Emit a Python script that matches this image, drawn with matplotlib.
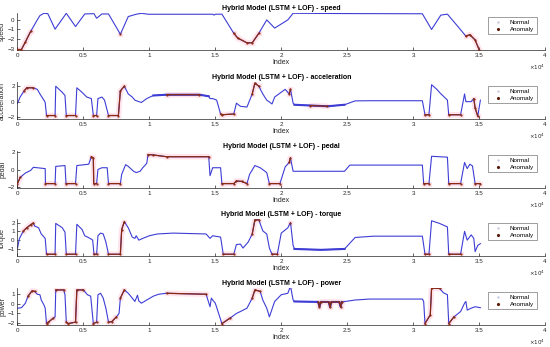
import numpy as np
import matplotlib.pyplot as plt
from matplotlib.lines import Line2D

plt.rcParams['font.family'] = ['Liberation Sans', 'DejaVu Sans']

# x positions are in units of 1e4 samples (as on the axis)
speed_x = [0, 0.03, 0.06, 0.1, 0.15, 0.17, 0.2, 0.23, 0.285, 0.37, 0.44, 0.51, 0.58, 0.6, 0.64, 0.69,
           0.78, 0.84, 0.9, 0.94, 0.99, 1.48, 1.49, 1.5, 1.55, 1.64, 1.67, 1.74, 1.78, 1.83, 1.89, 1.95,
           2.05, 2.09, 2.5, 3.07, 3.14, 3.21, 3.26, 3.34, 3.40, 3.43, 3.47, 3.50]
speed_y = [-3.1, -3.1, -2.3, -1.2, 0, 0.45, 0.69, 0.65, -0.97, 0.69, -0.7, 0.62, 0.65, 0.17, 0.62, 0.62,
           -1.5, 0.35, 0.59, 0.69, 0.59, 0.59, 0.5, 0.59, 0.6, -1.4, -1.9, -2.4, -2.4, -1.4, 0, -0.86,
           0, 0.69, 0.66, 0.64, -1.0, 0.5, 0.6, -0.7, -1.7, -1.55, -2.1, -3.1]
speed_anom = [(0, 0.1), (0.78, 0.78), (1.6, 1.84), (3.38, 3.51)]
speed_noisy = []

accel_x = [0, 0.02, 0.05, 0.07, 0.12, 0.15, 0.17, 0.2, 0.21, 0.22, 0.285, 0.29, 0.34, 0.36, 0.37, 0.44,
           0.45, 0.49, 0.525, 0.56, 0.575, 0.6, 0.61, 0.64, 0.66, 0.69, 0.765, 0.78, 0.81, 0.84, 0.87,
           0.89, 0.92, 0.94, 0.98, 1.03, 1.13, 1.38, 1.45, 1.46, 1.48, 1.51, 1.54, 1.55, 1.64, 1.66,
           1.69, 1.74, 1.78, 1.8, 1.83, 1.86, 1.89, 1.93, 1.95, 2.03, 2.06, 2.07, 2.09, 2.1, 2.22,
           2.35, 2.48, 2.56, 2.67, 3.07, 3.09, 3.12, 3.14, 3.18, 3.2, 3.26, 3.27, 3.36, 3.39, 3.4,
           3.44, 3.46, 3.47, 3.49, 3.51]
accel_y = [-0.2, 0.6, 1.4, 1.8, 1.8, 1.6, 1.0, 0.2, -0.1, -1.8, -1.8, 2.0, 1.2, 0.8, -1.8, -1.8,
           1.8, 1.2, 0.6, 0.4, -1.8, -1.8, 0.4, 0.6, 0.2, -1.8, -1.8, 1.4, 2.0, 1.0, 0.6,
           0.2, 0, -0.1, 0.4, 0.8, 0.9, 0.9, 0.7, 0.4, 0.4, 0.2, -1.6, -1.7, -1.6, -0.2,
           -0.6, -0.7, 1.0, 2.4, 2.0, 1.0, 0.2, -0.3, 0.6, 1.6, 1.0, 1.6, -0.2, -0.4, -0.5,
           -0.6, -0.4, 0.1, 0.12, 0.12, -1.7, -1.7, 2.2, 1.6, 1.2, 0.2, -1.7, -1.7, 1.0, 0,
           0, 0.4, -0.8, -1.9, 0.2]
accel_anom = [(0.03, 0.12), (0.22, 0.285), (0.37, 0.44), (0.575, 0.6), (0.69, 0.765), (0.78, 0.81),
              (1.13, 1.38), (1.54, 1.64), (1.78, 1.83), (2.06, 2.07), (2.22, 2.35), (3.09, 3.12),
              (3.27, 3.36), (3.46, 3.49)]
accel_noisy = [(1.03, 1.45), (2.1, 2.48)]

pedal_x = [0, 0.02, 0.06, 0.1, 0.12, 0.15, 0.21, 0.212, 0.285, 0.29, 0.36, 0.368, 0.44, 0.45, 0.54,
           0.56, 0.575, 0.578, 0.6, 0.61, 0.64, 0.68, 0.69, 0.78, 0.79, 0.82, 0.84, 0.88, 0.9, 0.93,
           0.95, 0.98, 0.99, 1.03, 1.13, 1.45, 1.46, 1.48, 1.54, 1.55, 1.64, 1.66, 1.7, 1.74, 1.76,
           1.8, 1.84, 1.89, 1.91, 1.99, 2.03, 2.06, 2.07, 2.09, 2.48, 2.52, 3.07, 3.08, 3.12, 3.14,
           3.26, 3.27, 3.36, 3.39, 3.41, 3.43, 3.45, 3.47, 3.51]
pedal_y = [-1.6, -0.9, -0.4, -0.1, 0.25, 0.2, 0.1, -1.6, -1.6, 0.35, 0.45, -1.6, -1.6, 0.45, 0.6,
           1.45, 1.3, -1.6, -1.6, 0, 0.2, 0.2, -1.6, -1.6, -0.55, 0.55, 0.35, -0.2, -0.35, -0.2,
           0.2, 0.7, 1.7, 1.65, 1.45, 1.45, -0.7, 0.2, 0.2, -1.6, -1.6, -1.3, -1.35, -1.6, -0.55,
           0.45, 0.2, -0.35, -1.6, -1.6, 0.3, 0.8, 1.3, -0.2, -0.2, 0.5, 0.5, -1.6, -1.6, 1.5,
           1.4, -1.6, -1.6, 0.8, 0.1, 0.6, 0.4, -1.6, -1.6]
pedal_anom = [(0, 0.02), (0.212, 0.285), (0.368, 0.44), (0.56, 0.6), (0.69, 0.78), (0.99, 1.45),
              (1.55, 1.74), (1.91, 1.99), (2.06, 2.07), (3.08, 3.12), (3.27, 3.36), (3.47, 3.51)]
pedal_noisy = []

torque_x = [0, 0.015, 0.045, 0.07, 0.1, 0.12, 0.13, 0.16, 0.18, 0.21, 0.22, 0.285, 0.29, 0.34, 0.36,
            0.37, 0.44, 0.45, 0.49, 0.51, 0.55, 0.57, 0.58, 0.6, 0.61, 0.63, 0.65, 0.67, 0.69, 0.78,
            0.79, 0.81, 0.84, 0.87, 0.89, 0.9, 0.92, 0.95, 1.0, 1.06, 1.18, 1.43, 1.46, 1.47, 1.48,
            1.54, 1.56, 1.64, 1.66, 1.69, 1.71, 1.75, 1.78, 1.8, 1.83, 1.86, 1.89, 1.91, 1.93, 1.97,
            2.0, 2.05, 2.07, 2.09, 2.1, 2.3, 2.48, 2.56, 2.7, 3.07, 3.09, 3.12, 3.14, 3.2, 3.26,
            3.27, 3.36, 3.39, 3.41, 3.44, 3.46, 3.47, 3.49, 3.51]
torque_y = [-0.9, 0.2, 1.05, 1.4, 1.75, 1.95, 1.6, 1.4, 0.7, 0.2, -1.6, -1.6, 1.9, 1.4, 0.9,
            -1.6, -1.6, 1.8, 1.2, 0.5, 0.2, 0, -1.6, -1.6, 0.5, 0.8, 0.7, -0.2, -1.6, -1.6,
            1.2, 2.1, 1.4, 0.35, 0.2, 0.5, 0, 0.2, 0.5, 0.7, 0.8, 0.7, 0.2, 0.35, 0.5,
            0.35, -1.6, -1.6, -0.5, -0.45, -0.9, -0.2, 0.7, 2.3, 2.3, 1.05, 0.7, -0.9, -1.6, -1.6,
            0.8, 1.4, 2.0, -0.6, -1.0, -1.1, -1.0, 0.3, 0.45, 0.45, -1.6, -1.6, 2.2, 1.9, 1.5,
            -1.6, -1.6, 1.0, 0.0, 0.6, 0.2, -1.3, -0.6, -0.4]
torque_anom = [(0.045, 0.12), (0.22, 0.285), (0.37, 0.44), (0.58, 0.6), (0.69, 0.78), (0.79, 0.81),
               (1.56, 1.64), (1.78, 1.83), (1.93, 1.97), (2.07, 2.07), (3.09, 3.12), (3.27, 3.36)]
torque_noisy = [(2.1, 2.48)]

power_x = [0, 0.03, 0.06, 0.08, 0.11, 0.13, 0.15, 0.17, 0.18, 0.2, 0.21, 0.22, 0.235, 0.27, 0.285,
           0.29, 0.35, 0.36, 0.37, 0.385, 0.44, 0.45, 0.5, 0.53, 0.555, 0.575, 0.6, 0.61, 0.63, 0.65,
           0.67, 0.69, 0.715, 0.75, 0.77, 0.78, 0.81, 0.84, 0.87, 0.89, 0.91, 0.92, 0.94, 0.98, 1.03,
           1.07, 1.13, 1.43, 1.46, 1.47, 1.48, 1.5, 1.55, 1.61, 1.66, 1.69, 1.74, 1.78, 1.8, 1.84,
           1.86, 1.89, 1.91, 1.95, 2.0, 2.05, 2.07, 2.09, 2.1, 2.28, 2.29, 2.3, 2.36, 2.37, 2.38,
           2.44, 2.45, 2.46, 2.56, 2.67, 3.07, 3.08, 3.09, 3.13, 3.14, 3.2, 3.23, 3.26, 3.27, 3.31,
           3.36, 3.39, 3.40, 3.41, 3.44, 3.47, 3.51]
power_y = [-0.45, -0.4, 0.07, 0.8, 1.35, 1.3, 1.0, 0.95, 0.4, -0.1, -0.45, -2.05, -1.9, -1.5, -1.35,
           1.45, 1.45, 0.95, -1.9, -2.05, -1.9, 1.45, 1.45, 0.95, 0.8, -2.05, -1.9, 0.95, 1.1, 0.6,
           -0.45, -1.9, -1.85, -1.35, -1.0, 0.6, 1.45, 1.1, 0.6, 0.25, 0.9, 0.3, 0.07, 0.4, 0.8,
           1.0, 1.1, 1.0, -0.3, 0.6, 0.4, 0.07, -2.05, -1.5, -1.0, -0.8, -0.45, 0.6, 1.45, 1.3,
           0.4, -0.45, -1.35, 0.25, 0.95, 1.1, 1.85, 0.4, 0.25, 0.2, -0.3, 0.2, 0.2, -0.35, 0.2,
           0.2, -0.3, 0.2, 0.4, 0.5, 0.5, 0.25, -2.05, -1.15, 1.65, 1.6, 1.15, 0.95, -2.05, -1.35,
           -0.8, 0.07, 0.25, -0.65, -0.45, -0.3, -0.4]
power_anom = [(0.08, 0.13), (0.22, 0.27), (0.29, 0.35), (0.37, 0.44), (0.45, 0.5), (0.575, 0.6),
              (0.69, 0.75), (0.78, 0.81), (1.13, 1.43), (1.55, 1.61), (1.78, 1.84), (2.07, 2.07),
              (2.28, 2.3), (2.36, 2.38), (2.44, 2.46), (3.09, 3.13), (3.14, 3.2), (3.27, 3.31)]
power_noisy = [(2.1, 2.46)]

names = ['speed', 'acceleration', 'pedal', 'torque', 'power']
series = [(speed_x, speed_y, speed_anom, speed_noisy), (accel_x, accel_y, accel_anom, accel_noisy),
          (pedal_x, pedal_y, pedal_anom, pedal_noisy), (torque_x, torque_y, torque_anom, torque_noisy),
          (power_x, power_y, power_anom, power_noisy)]
ylims = [(-3.15, 0.72), (-2.25, 2.55), (-2.1, 2.1), (-1.8, 2.4), (-2.2, 1.65)]
yticks = [[-3, -2, -1, 0], [-2, 0, 2], [-2, 0, 2], [-1, 0, 1, 2], [-2, -1, 0, 1]]
bottoms = [50, 119, 188, 256, 325]


def in_ranges(x, ranges):
    m = np.zeros(len(x), dtype=bool)
    for s, e in ranges:
        m |= (x >= s - 1e-9) & (x <= e + 1e-9)
    return m


fig = plt.figure(figsize=(5.5, 3.47), dpi=100)
W, H = 550, 347
xt = np.arange(0, 4.01, 0.5)

for name, (x, y, anom, noisy), yl, yt, b in zip(names, series, ylims, yticks, bottoms):
    ax = fig.add_axes([17.5 / W, 1 - b / H, 527.5 / W, 37 / H])
    x = np.array(x)
    y = np.array(y, dtype=float)
    ya = np.where(in_ranges(x, anom), y, np.nan)
    yn = np.where(in_ranges(x, noisy), y, np.nan)

    # faint pink halo around anomalous samples
    ax.plot(x, ya, color='#ffe4ec', lw=4, solid_capstyle='butt', zorder=1)
    ax.plot(x, ya, color='#ffe4ec', ls='none', marker='s', ms=3, zorder=1)
    ax.plot(x, y, color='#3d3dd6', lw=0.8, zorder=2)
    # thicker trace where the signal is noisy
    ax.plot(x, yn, color='#3d3dd6', lw=1.5, zorder=2)
    ax.plot(x, ya, color='#8a2a12', lw=0.9, marker='.', ms=1.2, zorder=3)

    ax.set_xlim(0, 4)
    ax.set_ylim(*yl)
    ax.set_xticks(xt)
    ax.set_xticklabels(['0', '0.5', '1', '1.5', '2', '2.5', '3', '3.5', '4'])
    ax.set_yticks(yt)
    ax.tick_params(direction='in', length=2, width=0.5, labelsize=4.5, pad=2, colors='#262626')
    for sp in ['top', 'right']:
        ax.spines[sp].set_visible(False)
    for sp in ['left', 'bottom']:
        ax.spines[sp].set_linewidth(0.5)
        ax.spines[sp].set_color('#262626')
    ax.set_ylabel(name, fontsize=5, labelpad=1, color='#262626')
    ax.set_xlabel('Index', fontsize=5, labelpad=1, color='#262626')
    ax.set_title('Hybrid Model (LSTM + LOF) - ' + name, fontsize=5, fontweight='bold', pad=2)
    ax.text(1.0, -0.47, r'$\times10^4$', transform=ax.transAxes, ha='right', va='center',
            fontsize=4, color='#262626')

    handles = [Line2D([], [], ls='none', marker='.', ms=1.5, color='#c8c8e0'),
               Line2D([], [], ls='none', marker='.', ms=2.5, color='#5a1a0a')]
    leg = ax.legend(handles, ['Normal', 'Anomaly'], loc='upper right', bbox_to_anchor=(0.99, 0.97),
                    fontsize=4.5, frameon=True, fancybox=False, edgecolor='#555555',
                    handlelength=2.5, handletextpad=0.6, borderpad=0.4, labelspacing=0.2)
    leg.get_frame().set_linewidth(0.5)

fig.savefig('out.png', dpi=100)
